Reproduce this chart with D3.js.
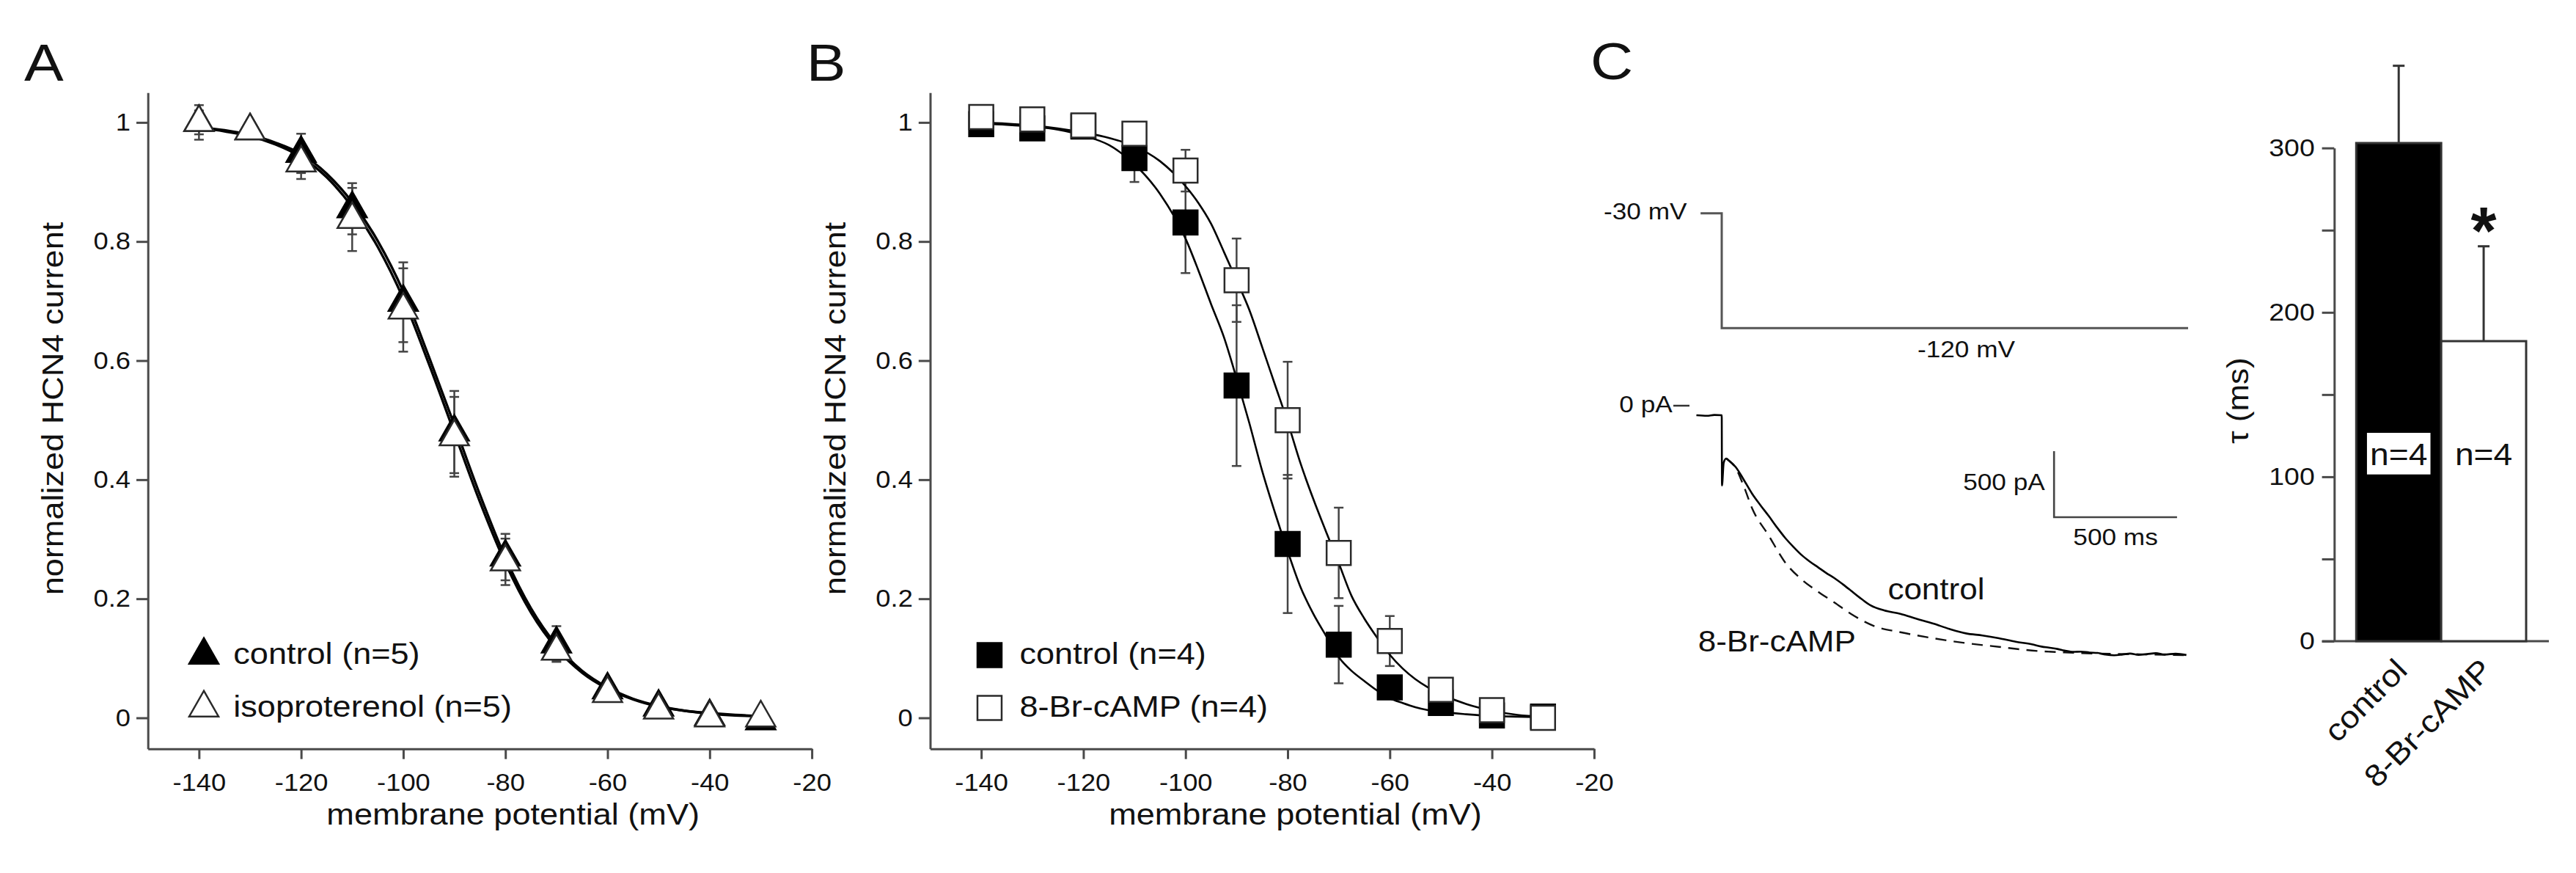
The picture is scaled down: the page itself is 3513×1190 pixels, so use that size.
<!DOCTYPE html>
<html><head><meta charset="utf-8">
<script src="https://cdn.jsdelivr.net/npm/d3@7"></script>
<style>
body{margin:0;background:#fff}
svg{display:block}
text{font-family:"Liberation Sans",Arial,Helvetica,sans-serif;fill:#111}
</style>
</head><body>
<svg id="chart" width="3513" height="1190"></svg>
<script>
// ---------------- DATA ----------------
const voltages = [-140,-130,-120,-110,-100,-90,-80,-70,-60,-50,-40,-30];
const xTicks = [-140,-120,-100,-80,-60,-40,-20];
const yTicks = [0,0.2,0.4,0.6,0.8,1];

// Panel A
const aControl    = [1.0,0.986,0.948,0.855,0.698,0.48,0.27,0.124,0.047,0.018,0.002,-0.005];
const aControlErr = [0.029,0.01,0.033,0.043,0.067,0.069,0.039,0.03,0.01,0.006,0.004,0.004];
const aIso        = [1.0,0.986,0.932,0.837,0.685,0.472,0.262,0.112,0.041,0.013,0.0,0.0];
const aIsoErr     = [0.02,0.01,0.027,0.053,0.07,0.067,0.039,0.015,0.01,0.006,0.004,0.004];
const aFitV       = [-140,-135,-130,-125,-120,-115,-110,-105,-100,-95,-90,-85,-80,-75,-70,-65,-60,-55,-50,-45,-40,-35,-30];
const aFitControl = [0.992,0.987,0.979,0.966,0.947,0.914,0.866,0.801,0.716,0.607,0.492,0.375,0.269,0.184,0.122,0.079,0.051,0.032,0.02,0.012,0.008,0.005,0.003];
const aFitIso     = [0.991,0.985,0.977,0.963,0.942,0.908,0.858,0.791,0.704,0.595,0.479,0.363,0.26,0.177,0.117,0.076,0.049,0.031,0.019,0.012,0.007,0.004,0.003];

// Panel B
const bControl    = [0.997,0.99,0.993,0.94,0.832,0.558,0.292,0.123,0.051,0.025,0.004,0.002];
const bControlErr = [0.005,0.005,0.01,0.04,0.085,0.135,0.116,0.065,0.012,0.008,0.004,0.002];
const bBr         = [1.009,1.005,0.995,0.981,0.919,0.735,0.5,0.277,0.129,0.047,0.013,0.0];
const bBrErr      = [0.005,0.005,0.008,0.012,0.035,0.07,0.098,0.076,0.042,0.012,0.006,0.003];
const bFitV       = [-140,-135,-130,-125,-120,-115,-110,-105,-100,-97.5,-95,-92.5,-90,-87.5,-85,-82.5,-80,-77.5,-75,-72.5,-70,-67.5,-65,-62.5,-60,-57.5,-55,-52.5,-50,-45,-40,-35,-30];
const bFitControl = [0.998,0.996,0.993,0.988,0.978,0.962,0.93,0.88,0.805,0.752,0.695,0.64,0.57,0.495,0.415,0.345,0.28,0.22,0.175,0.138,0.102,0.079,0.062,0.046,0.033,0.025,0.018,0.013,0.010,0.006,0.003,0.002,0.001];
const bFitBr      = [1.0,0.998,0.995,0.99,0.983,0.974,0.96,0.935,0.893,0.865,0.83,0.783,0.735,0.685,0.623,0.56,0.497,0.428,0.368,0.313,0.26,0.205,0.167,0.135,0.106,0.083,0.065,0.051,0.04,0.023,0.012,0.005,0.002];

// Panel C traces (time in ms from the step, current in pA, voltage in mV)
const protocolTime  = [-86, 0, 0, 1896];
const protocolLevel = [-30, -30, -120, -120];
const controlTime    = [-103,-60,-30,0,1,8,18,30,57,90,124,158,191,225,258,292,325,358,392,425,459,492,525,560,605,660,726,790,860,925,993,1060,1127,1195,1261,1300,1330,1365,1394,1430,1460,1495,1528,1560,1595,1630,1660,1695,1729,1765,1800,1845,1889];
const controlCurrent = [0,-4,2,0,-532,-360,-328,-345,-393,-490,-596,-683,-763,-850,-929,-998,-1059,-1108,-1152,-1195,-1235,-1280,-1328,-1380,-1439,-1478,-1504,-1540,-1578,-1618,-1652,-1668,-1689,-1715,-1735,-1752,-1760,-1770,-1782,-1792,-1790,-1797,-1800,-1812,-1818,-1812,-1805,-1815,-1809,-1802,-1812,-1806,-1816];
const brTime    = [18,30,57,90,124,191,258,325,392,459,525,619,726,860,993,1127,1261,1394,1528,1729,1889];
const brCurrent = [-328,-345,-400,-540,-707,-911,-1115,-1244,-1337,-1420,-1504,-1596,-1643,-1689,-1726,-1754,-1782,-1796,-1805,-1811,-1817];

// Panel C bar chart
const tauGroups = ['control','8-Br-cAMP'];
const tauMean   = [303, 182.5];
const tauSem    = [47, 57.7];
const tauN      = ['n=4','n=4'];
const tauTicks  = [0,50,100,150,200,250,300];

// ---------------- DRAW ----------------
const SX = 1.1; // horizontal text stretch of the original figure
const AX = '#4a4a4a';
const svg = d3.select('#chart');

function txt(g, x, y, s, size, opt={}) {
  const t = g.append('text')
    .attr('transform', `translate(${x},${y}) rotate(${opt.rot||0}) scale(${opt.sx||SX},1)`)
    .attr('text-anchor', opt.anchor||'start')
    .attr('font-size', size)
    .text(s);
  if (opt.weight) t.attr('font-weight', opt.weight);
  return t;
}

function styleAxis(g, fs) {
  g.attr('font-size', fs).attr('font-family', null);
  g.select('.domain').attr('stroke', AX).attr('stroke-width', 3);
  g.selectAll('.tick line').attr('stroke', AX).attr('stroke-width', 3);
  g.selectAll('.tick text').attr('fill', '#222');
}

const Y0 = 1020.7;
const yS = d3.scaleLinear().domain([-0.052,1.05]).range([Y0,126.3]);

function triPath(w,h){ return `M0,${-2*h/3}L${w/2},${h/3}L${-w/2},${h/3}Z`; }
function sqPath(s){ return `M${-s/2},${-s/2}H${s/2}V${s/2}H${-s/2}Z`; }

function ivPanel(x0, label, ctrl, ctrlErr, trt, trtErr, fitV, fitC, fitT, marker, legendTexts, curveW) {
  const x = d3.scaleLinear().domain([-150,-20]).range([x0, x0+905.4]);
  const g = svg.append('g');
  // axes
  const gx = g.append('g').attr('transform',`translate(0,${Y0})`)
    .call(d3.axisBottom(x).tickValues(xTicks).tickSize(14).tickSizeOuter(0).tickPadding(20).tickFormat(d => String(d)));
  styleAxis(gx, 33);
  gx.selectAll('.tick text').attr('transform',`scale(${SX},1)`);
  const gy = g.append('g').attr('transform',`translate(${x0},0)`)
    .call(d3.axisLeft(yS).tickValues(yTicks).tickSize(15.7).tickSizeOuter(0)
      .tickFormat(d => d===0?'0':d===1?'1':d.toFixed(1)));
  styleAxis(gy, 33);
  gy.selectAll('.tick text').attr('x', -23.7/SX).attr('transform',`scale(${SX},1)`);
  // titles
  txt(g, x0-201.7+33, 110, label, 70, {sx:1.15});
  txt(g, x(-78.5), 1124, 'membrane potential (mV)', 41, {anchor:'middle'});
  txt(g, x0-115.7, 557, 'normalized HCN4 current', 41, {anchor:'middle', rot:-90});
  // error bars
  const eb = g.append('g').attr('stroke','#444').attr('stroke-width',2.5);
  function errs(vals, errv) {
    voltages.forEach((v,i)=>{
      const cx = x(v), t = yS(vals[i]+errv[i]), b = yS(vals[i]-errv[i]);
      eb.append('line').attr('x1',cx).attr('x2',cx).attr('y1',t).attr('y2',b);
      eb.append('line').attr('x1',cx-6.5).attr('x2',cx+6.5).attr('y1',t).attr('y2',t);
      eb.append('line').attr('x1',cx-6.5).attr('x2',cx+6.5).attr('y1',b).attr('y2',b);
    });
  }
  errs(ctrl, ctrlErr); errs(trt, trtErr);
  // fit curves
  const line = d3.line().x((d,i)=>x(fitV[i])).y(d=>yS(d)).curve(d3.curveMonotoneX);
  g.append('path').attr('d', line(fitC)).attr('fill','none').attr('stroke','#000').attr('stroke-width',curveW);
  g.append('path').attr('d', line(fitT)).attr('fill','none').attr('stroke','#000').attr('stroke-width',curveW);
  // markers
  const mk = marker==='tri' ? triPath(40,35) : sqPath(33);
  g.append('g').selectAll('path').data(ctrl).join('path')
    .attr('d', mk).attr('transform',(d,i)=>`translate(${x(voltages[i])},${yS(d)})`)
    .attr('fill','#000').attr('stroke','#000').attr('stroke-width',2.5);
  g.append('g').selectAll('path').data(trt).join('path')
    .attr('d', mk).attr('transform',(d,i)=>`translate(${x(voltages[i])},${yS(d)})`)
    .attr('fill','#fff').attr('stroke','#2a2a2a').attr('stroke-width',2.5);
  // legend
  const lx = marker==='tri' ? x0+76.3 : x0+81;
  const tx = marker==='tri' ? x0+116.6 : x0+122;
  const rows = [905, 977];
  g.append('path').attr('d', mk).attr('transform',`translate(${lx},${rows[0]-12})`).attr('fill','#000').attr('stroke','#000').attr('stroke-width',2.5);
  g.append('path').attr('d', mk).attr('transform',`translate(${lx},${rows[1]-12})`).attr('fill','#fff').attr('stroke','#2a2a2a').attr('stroke-width',2.5);
  txt(g, tx, rows[0], legendTexts[0], 41);
  txt(g, tx, rows[1], legendTexts[1], 41);
}

ivPanel(201.7, 'A', aControl, aControlErr, aIso, aIsoErr, aFitV, aFitControl, aFitIso, 'tri', ['control (n=5)','isoproterenol (n=5)'], 3.4);
ivPanel(1268.5, 'B', bControl, bControlErr, bBr, bBrErr, bFitV, bFitControl, bFitBr, 'sq', ['control (n=4)','8-Br-cAMP (n=4)'], 2.6);

// ---------------- PANEL C: traces ----------------
const gc = svg.append('g');
txt(gc, 2169, 108, 'C', 70, {sx:1.15});
const tS = d3.scaleLinear().domain([0,1896]).range([2348,2984]);
const vS = d3.scaleLinear().domain([-30,-120]).range([290.7,447.3]);
const iS = d3.scaleLinear().domain([0,-500]).range([566,656]);

const vLine = d3.line().x((d,i)=>tS(protocolTime[i])).y(d=>vS(d));
gc.append('path').attr('d', vLine(protocolLevel)).attr('fill','none').attr('stroke','#555').attr('stroke-width',3);
txt(gc, 2187, 299.3, '-30 mV', 32);
txt(gc, 2615, 486.7, '-120 mV', 32);

txt(gc, 2208.3, 561.7, '0 pA', 32);
gc.append('line').attr('x1',2282).attr('x2',2304).attr('y1',553).attr('y2',553).attr('stroke','#333').attr('stroke-width',2.5);

const cLine = d3.line().x((d,i)=>tS(controlTime[i])).y(d=>iS(d)).curve(d3.curveMonotoneX);
const bLine = d3.line().x((d,i)=>tS(brTime[i])).y(d=>iS(d)).curve(d3.curveMonotoneX);
gc.append('path').attr('d', bLine(brCurrent)).attr('fill','none').attr('stroke','#111').attr('stroke-width',2.4).attr('stroke-dasharray','15,10');
gc.append('path').attr('d', cLine(controlCurrent)).attr('fill','none').attr('stroke','#000').attr('stroke-width',2.6).attr('stroke-linejoin','round');

// scale bars (500 pA, 500 ms)
const sbT = 1351, sbI = -272;
gc.append('path').attr('d', `M${tS(sbT)},${iS(sbI)}V${iS(sbI-500)}H${tS(sbT+500)}`)
  .attr('fill','none').attr('stroke','#444').attr('stroke-width',2.6);
txt(gc, tS(sbT)-12.5, 668.3, '500 pA', 32, {anchor:'end'});
txt(gc, tS(sbT+250), 743.3, '500 ms', 32, {anchor:'middle'});
txt(gc, 2574.4, 816.7, 'control', 40);
txt(gc, 2315.7, 888.3, '8-Br-cAMP', 40);

// ---------------- PANEL C: bar chart ----------------
const gb = svg.append('g');
const xb = d3.scaleBand().domain(tauGroups).range([3213.3,3445]).padding(0);
const yb = d3.scaleLinear().domain([0,300]).range([874,201.7]);
const gyb = gb.append('g').attr('transform','translate(3183.3,0)')
  .call(d3.axisLeft(yb).tickValues(tauTicks).tickSize(16.7).tickSizeOuter(0)
    .tickFormat(d => d%100===0 ? String(d) : ''));
styleAxis(gyb, 34);
gyb.selectAll('.tick text').attr('x', -26.6/SX).attr('transform',`scale(${SX},1)`);
gb.append('line').attr('x1', 3166.7).attr('x2', 3476).attr('y1', yb(0)).attr('y2', yb(0)).attr('stroke', AX).attr('stroke-width',3);

// error bars (upward only)
tauGroups.forEach((k,i)=>{
  const cx = xb(k)+xb.bandwidth()/2;
  gb.append('line').attr('x1',cx).attr('x2',cx).attr('y1',yb(tauMean[i])).attr('y2',yb(tauMean[i]+tauSem[i])).attr('stroke','#333').attr('stroke-width',3);
  gb.append('line').attr('x1',cx-8).attr('x2',cx+8).attr('y1',yb(tauMean[i]+tauSem[i])).attr('y2',yb(tauMean[i]+tauSem[i])).attr('stroke','#333').attr('stroke-width',3);
});
gb.selectAll('rect.bar').data(tauMean).join('rect').attr('class','bar')
  .attr('x',(d,i)=>xb(tauGroups[i])).attr('width',xb.bandwidth())
  .attr('y',d=>yb(d)).attr('height',d=>yb(0)-yb(d))
  .attr('fill',(d,i)=>i===0?'#000':'#fff').attr('stroke','#333').attr('stroke-width',3);

// n labels
const c0 = xb(tauGroups[0])+xb.bandwidth()/2, c1 = xb(tauGroups[1])+xb.bandwidth()/2;
gb.append('rect').attr('x',c0-43.3).attr('y',590).attr('width',86.6).attr('height',56.7).attr('fill','#fff');
txt(gb, c0, 634, tauN[0], 42, {anchor:'middle'});
txt(gb, c1, 634, tauN[1], 42, {anchor:'middle'});
// significance star
txt(gb, c1, 346, '*', 90, {anchor:'middle', weight:'bold', sx:1.0});
// axis title
txt(gb, 3066, 546, 'τ (ms)', 40, {anchor:'middle', rot:-90});
// category labels
tauGroups.forEach((k,i)=>{
  const cx = xb(k)+xb.bandwidth()/2;
  txt(gb, cx+14, 916, k, 42, {anchor:'end', rot:-45});
});
</script>
</body></html>
